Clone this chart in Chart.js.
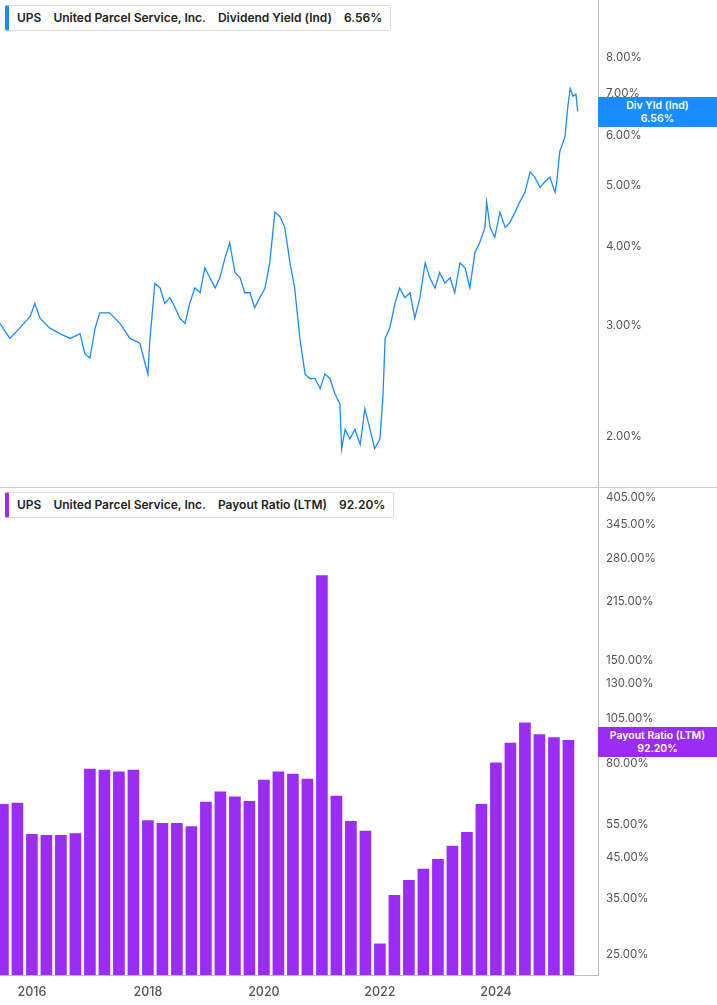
<!DOCTYPE html>
<html><head><meta charset="utf-8">
<script src="https://cdn.jsdelivr.net/npm/chart.js@4.4.1/dist/chart.umd.min.js"></script>
<style>
body{margin:0;background:#fff;font-family:Inter,"Noto Sans",sans-serif;overflow:hidden}
#wrap{position:relative;width:717px;height:1005px;overflow:hidden}
.pane{position:absolute;left:0;width:717px;}
.hdr{position:absolute;left:5px;height:24px;background:#fff;border:1px solid #ddd;border-left:4px solid;border-radius:2px;font-size:12px;font-weight:600;color:#222;line-height:24px;padding:0 8px;white-space:nowrap;z-index:5}
.hdr span{margin-right:12px}
.tag{position:absolute;left:598px;width:119px;color:#fff;font-size:10.5px;font-weight:600;text-align:center;line-height:13px;padding:2px 0;z-index:5}
</style></head><body>
<div id="wrap">
<div class="pane" style="top:-15px;height:517px"><canvas id="c1"></canvas></div>
<div class="pane" style="top:472px;height:533px"><canvas id="c2"></canvas></div>
<div style="position:absolute;left:0;top:487px;width:717px;height:1px;background:#ccc;z-index:4"></div>
<div class="hdr" style="top:5px;border-left-color:#1a8cff"><span>UPS</span><span>United Parcel Service, Inc.</span><span>Dividend Yield (Ind)</span>6.56%</div>
<div class="hdr" style="top:492px;border-left-color:#9b2cf5"><span>UPS</span><span>United Parcel Service, Inc.</span><span>Payout Ratio (LTM)</span>92.20%</div>
<div class="tag" style="top:97px;background:#1a8cff">Div Yld (Ind)<br>6.56%</div>
<div class="tag" style="top:727px;background:#9b2cf5">Payout Ratio (LTM)<br>92.20%</div>
</div>
<script>
const yieldDates=[2015.45,2015.62,2015.79,2015.97,2016.05,2016.14,2016.31,2016.48,2016.66,2016.83,2016.91,2017.00,2017.09,2017.17,2017.34,2017.52,2017.69,2017.86,2018.00,2018.03,2018.12,2018.21,2018.29,2018.38,2018.47,2018.55,2018.64,2018.72,2018.81,2018.90,2018.98,2019.07,2019.16,2019.24,2019.33,2019.41,2019.50,2019.59,2019.67,2019.76,2019.84,2019.93,2020.02,2020.10,2020.19,2020.28,2020.36,2020.45,2020.53,2020.62,2020.71,2020.79,2020.88,2020.97,2021.05,2021.14,2021.22,2021.31,2021.34,2021.40,2021.48,2021.57,2021.66,2021.74,2021.83,2021.91,2022.00,2022.05,2022.09,2022.17,2022.26,2022.34,2022.43,2022.52,2022.60,2022.69,2022.78,2022.86,2022.95,2023.03,2023.12,2023.21,2023.29,2023.38,2023.47,2023.55,2023.64,2023.72,2023.81,2023.84,2023.90,2023.98,2024.07,2024.16,2024.24,2024.33,2024.41,2024.50,2024.59,2024.67,2024.76,2024.84,2024.93,2025.02,2025.05,2025.10,2025.19,2025.24,2025.28,2025.33,2025.38,2025.41];
const yieldValues=[3.02,2.86,2.97,3.10,3.25,3.08,2.97,2.91,2.86,2.91,2.71,2.66,2.97,3.14,3.14,3.02,2.86,2.81,2.51,2.81,3.50,3.44,3.25,3.32,3.20,3.08,3.02,3.25,3.44,3.38,3.70,3.57,3.44,3.57,3.84,4.06,3.64,3.57,3.38,3.38,3.20,3.32,3.44,3.77,4.54,4.46,4.29,3.77,3.44,2.86,2.51,2.47,2.47,2.38,2.51,2.47,2.34,2.25,1.91,2.05,1.98,2.05,1.94,2.21,2.05,1.91,1.98,2.29,2.86,2.97,3.25,3.44,3.32,3.38,3.08,3.32,3.77,3.57,3.44,3.64,3.50,3.57,3.38,3.77,3.70,3.44,3.92,4.06,4.29,4.71,4.29,4.14,4.54,4.29,4.37,4.54,4.71,4.88,5.26,5.16,4.97,5.07,5.16,4.88,5.07,5.66,5.98,6.68,7.14,6.94,6.99,6.56];
const yieldTicks=[2,3,4,5,6,7,8];
const payoutDates=[];for(let i=0;i<40;i++)payoutDates.push(2015.5+0.25*i);
const payoutValues=[62.4,62.8,51.9,51.6,51.6,52.2,77.3,76.9,76.0,76.9,56.5,55.5,55.5,54.4,63.2,67.3,65.3,63.5,72.3,76.0,75.0,72.7,252,65.6,56.2,53.0,26.6,35.8,39.2,42.0,44.6,48.3,52.6,62.4,80.3,90.6,102.5,95.4,93.7,92.2];
const payoutTicks=[25,35,45,55,80,105,130,150,215,280,345,405];
const yearTicks=[2016,2018,2020,2022,2024];
const XMIN=2015.45,XMAX=2025.76;
const tickFont={family:'Inter',size:11.5};
function yAxis(min,max,ticks){return{type:'logarithmic',position:'right',min,max,
 afterBuildTicks:s=>{s.ticks=ticks.map(v=>({value:v}));},
 afterFit:s=>{s.width=119;},
 ticks:{color:'#555',font:tickFont,padding:8,callback:v=>Number(v).toFixed(2)+'%'},
 grid:{display:false,drawTicks:false},border:{display:true,color:'#bbb'}};}
new Chart(document.getElementById('c1'),{type:'line',
 data:{datasets:[{data:yieldDates.map((d,i)=>({x:d,y:yieldValues[i]})),borderColor:'#1a8cff',borderWidth:1.3,pointRadius:0,tension:0}]},
 options:{responsive:true,maintainAspectRatio:false,animation:false,layout:{padding:0},
  plugins:{legend:{display:false},tooltip:{enabled:false}},
  scales:{x:{type:'linear',min:XMIN,max:XMAX,display:false},y:yAxis(1.66,9.87,yieldTicks)}}});
new Chart(document.getElementById('c2'),{type:'bar',
 data:{datasets:[{data:payoutDates.map((d,i)=>({x:d,y:payoutValues[i]})),backgroundColor:'#9b2cf5',barThickness:11,base:22}]},
 options:{responsive:true,maintainAspectRatio:false,animation:false,layout:{padding:0},
  plugins:{legend:{display:false},tooltip:{enabled:false}},
  scales:{x:{type:'linear',offset:false,min:XMIN,max:XMAX,
   afterBuildTicks:s=>{s.ticks=yearTicks.map(v=>({value:v}));},
   afterFit:s=>{s.height=30;},
   ticks:{color:'#555',font:{family:'Inter',size:12.5,weight:'500'},callback:v=>String(v),maxRotation:0,padding:6},
   grid:{display:false,offset:false,drawTicks:true,tickLength:4,color:'#bbb'},border:{display:true,color:'#bbb'}},
  y:yAxis(22,433,payoutTicks)}}});
</script></body></html>
